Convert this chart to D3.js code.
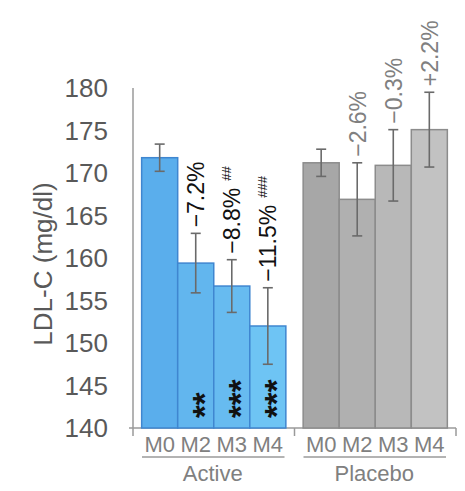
<!DOCTYPE html>
<html>
<head>
<meta charset="utf-8">
<script src="https://cdn.jsdelivr.net/npm/d3@7"></script>
<style>
  body { margin: 0; background: #fff; }
  svg { font-family: "Liberation Sans", Arial, sans-serif; }
</style>
</head>
<body>
<div id="chart"></div>
<script>
const groups = ["Active", "Placebo"]
const months = ["M0", "M2", "M3", "M4"]
const yTicks = [140, 145, 150, 155, 160, 165, 170, 175, 180]

const activeMeans = [171.8, 159.4, 156.7, 152.0]
const activeErr = [1.6, 3.5, 3.1, 4.5]
const activePct = ["", "\u22127.2%", "\u22128.8%", "\u221211.5%"]
const activeHash = ["", "", "##", "###"]
const activeStars = ["", "**", "***", "***"]

const placeboMeans = [171.2, 166.9, 170.9, 175.1]
const placeboErr = [1.6, 4.3, 4.2, 4.4]
const placeboPct = ["", "\u22122.6%", "\u22120.3%", "+2.2%"]

const activeFill = ["#5aaeec", "#62b6ee", "#67bbf0", "#6ec4f4"]
const placeboFill = ["#a7a7a7", "#b0b0b0", "#b8b8b8", "#c2c2c2"]

const params = {
	width: 465, height: 491,
	axisX: 133, axisRight: 456,
	top: 88, bottom: 428
}

const series = {
	Active: months.map((m, i) => ({
		month: m, value: activeMeans[i], err: activeErr[i],
		pct: activePct[i], hash: activeHash[i], stars: activeStars[i],
		fill: activeFill[i]
	})),
	Placebo: months.map((m, i) => ({
		month: m, value: placeboMeans[i], err: placeboErr[i],
		pct: placeboPct[i], hash: "", stars: "",
		fill: placeboFill[i]
	}))
}

const svg = d3.select("#chart")
	.append("svg")
	.attr("width", params.width)
	.attr("height", params.height)

const yScale = d3.scaleLinear()
	.domain([140, 180])
	.range([params.bottom, params.top])

const groupScale = d3.scaleBand()
	.domain(groups)
	.range([params.axisX, params.axisRight])

const monthScale = d3.scaleBand()
	.domain(months)
	.range([0, groupScale.bandwidth()])
	.paddingOuter(0.24)

// y axis: line + labels
svg.append("line")
	.attr("x1", params.axisX).attr("x2", params.axisX)
	.attr("y1", params.top).attr("y2", params.bottom)
	.attr("stroke", "#9a9a9a").attr("stroke-width", 1.5)

svg.append("g")
	.selectAll("text")
	.data(yTicks)
	.join("text")
	.attr("x", 108)
	.attr("y", d => yScale(d))
	.attr("dy", "0.35em")
	.attr("text-anchor", "end")
	.attr("font-size", 26)
	.attr("fill", "#595959")
	.text(d => d)

svg.append("text")
	.attr("transform", `translate(52, ${(params.top + params.bottom) / 2 + 6}) rotate(-90)`)
	.attr("text-anchor", "middle")
	.attr("font-size", 26)
	.attr("fill", "#595959")
	.text("LDL-C (mg/dl)")

// x axis baseline with ticks
svg.append("line")
	.attr("x1", params.axisX - 4).attr("x2", params.axisRight)
	.attr("y1", params.bottom).attr("y2", params.bottom)
	.attr("stroke", "#9a9a9a").attr("stroke-width", 1.5)

const tickXs = [params.axisX, groupScale("Placebo"), params.axisRight]
svg.append("g")
	.selectAll("line")
	.data(tickXs)
	.join("line")
	.attr("x1", d => d).attr("x2", d => d)
	.attr("y1", params.bottom).attr("y2", params.bottom + 8)
	.attr("stroke", "#9a9a9a").attr("stroke-width", 1.5)

groups.forEach(g => {
	const gx = groupScale(g)
	const data = series[g]
	const isActive = g === "Active"
	const grp = svg.append("g").attr("transform", `translate(${gx}, 0)`)
	const cx = d => monthScale(d.month) + monthScale.bandwidth() / 2

	grp.selectAll("rect")
		.data(data)
		.join("rect")
		.attr("x", d => monthScale(d.month))
		.attr("y", d => yScale(d.value))
		.attr("width", monthScale.bandwidth())
		.attr("height", d => params.bottom - yScale(d.value))
		.attr("fill", d => d.fill)
		.attr("stroke", isActive ? "#3f86d0" : "#8c8c8c")
		.attr("stroke-width", 1.5)

	// error bars
	const eb = grp.append("g")
		.attr("stroke", "#6a6a6a")
		.attr("stroke-width", 1.6)
	eb.selectAll(".stem")
		.data(data)
		.join("line")
		.attr("x1", cx).attr("x2", cx)
		.attr("y1", d => yScale(d.value + d.err))
		.attr("y2", d => yScale(d.value - d.err))
	eb.selectAll(".capTop")
		.data(data)
		.join("line")
		.attr("x1", d => cx(d) - 5).attr("x2", d => cx(d) + 5)
		.attr("y1", d => yScale(d.value + d.err))
		.attr("y2", d => yScale(d.value + d.err))
	eb.selectAll(".capBot")
		.data(data)
		.join("line")
		.attr("x1", d => cx(d) - 5).attr("x2", d => cx(d) + 5)
		.attr("y1", d => yScale(d.value - d.err))
		.attr("y2", d => yScale(d.value - d.err))

	// % change labels, rotated
	const lab = grp.selectAll(".pct")
		.data(data.filter(d => d.pct))
		.join("text")
		.attr("transform", d => `translate(${cx(d)}, ${yScale(d.value + d.err) - 6}) rotate(-90)`)
		.attr("dy", "0.36em")
		.attr("font-size", 23)
		.attr("fill", isActive ? "#111" : "#808080")
	lab.append("tspan").text(d => d.pct)
	lab.filter(d => d.hash)
		.append("tspan")
		.attr("dx", 7)
		.attr("dy", -9)
		.attr("font-size", 13)
		.text(d => d.hash)

	// significance stars
	grp.selectAll(".stars")
		.data(data.filter(d => d.stars))
		.join("text")
		.attr("transform", d => `translate(${cx(d)}, ${params.bottom - 10}) rotate(-90)`)
		.attr("dy", "0.62em")
		.attr("font-size", 33)
		.attr("font-weight", "bold")
		.attr("fill", "#111")
		.text(d => d.stars)

	// month labels
	grp.selectAll(".month")
		.data(data)
		.join("text")
		.attr("x", cx)
		.attr("y", 452)
		.attr("text-anchor", "middle")
		.attr("font-size", 22)
		.attr("fill", "#808080")
		.text(d => d.month)

	const bw = groupScale.bandwidth()
	grp.append("line")
		.attr("x1", monthScale.range()[0] + 9).attr("x2", bw - 10)
		.attr("y1", 457).attr("y2", 457)
		.attr("stroke", "#9a9a9a").attr("stroke-width", 1.5)

	grp.append("text")
		.attr("x", bw / 2 - 1)
		.attr("y", 481)
		.attr("text-anchor", "middle")
		.attr("font-size", 22)
		.attr("fill", "#808080")
		.text(g)
})
</script>
</body>
</html>
